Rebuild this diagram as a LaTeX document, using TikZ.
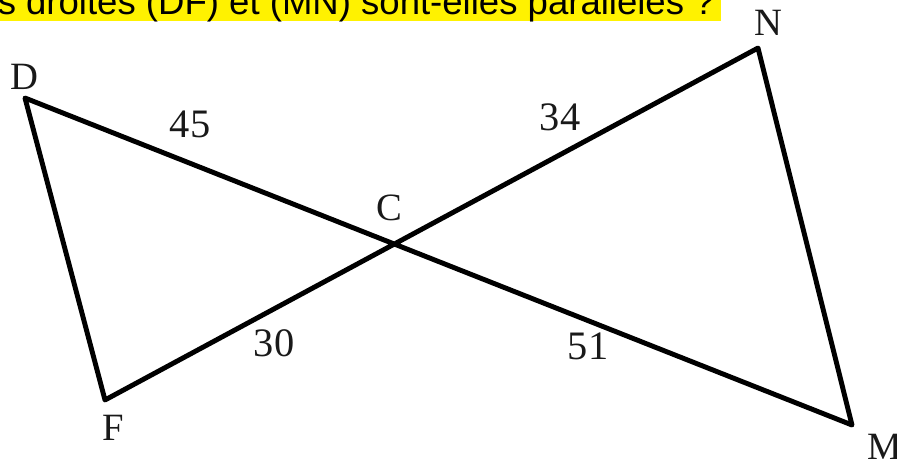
\documentclass[tikz,border=0pt]{standalone}
\usepackage{fontspec}
\setmainfont{Liberation Serif}
\newfontfamily\bannerfont{Liberation Sans}
\usetikzlibrary{positioning,calc}
\tikzset{
  fig edge/.style={line width=2.8pt,black,line join=round},
  fig vertex/.style={font=\fontsize{22}{22}\selectfont,inner sep=0pt,text=black!90},
  fig length/.style={font=\fontsize{23}{23}\selectfont,inner sep=0pt,text=black!90},
  fig banner/.style={font=\bannerfont\fontsize{20.8}{21}\selectfont,
    inner sep=0pt,anchor=base east}
}

\begin{document}
\begin{tikzpicture}[x=0.02cm,y=-0.02cm]
  \useasboundingbox (0,0) rectangle (897,464);
  \clip (0,0) rectangle (897,464);

  % question, cut off at the top of the picture
  \fill[yellow] (0,0) rectangle (721,20.5);
  \node[fig banner] (question) at (715,14)
    {s droites (DF) et (MN) sont-elles parallèles ?};

  \coordinate (D) at (25,98);
  \coordinate (F) at (105,400);
  \coordinate (N) at (758,48);
  \coordinate (M) at (852,425);
  \coordinate (C) at (intersection of D--M and F--N);

  \draw[fig edge] (D) -- (F) -- (N) -- (M) -- cycle;

  \node[fig vertex] (labD) at (24,77) {D};
  \node[fig vertex] (labN) at (768,23) {N};
  \node[fig vertex] (labC) at (389,208) {C};
  \node[fig vertex] (labF) at (113,428) {F};
  \node[fig vertex] (labM) at (885,447) {M};

  \node[fig length] (lenDC) at (190,124) {45};
  \node[fig length] (lenCN) at (560,117) {34};
  \node[fig length] (lenFC) at (274,343) {30};
  \node[fig length] (lenCM) at (588,346) {51};
\end{tikzpicture}
\end{document}
